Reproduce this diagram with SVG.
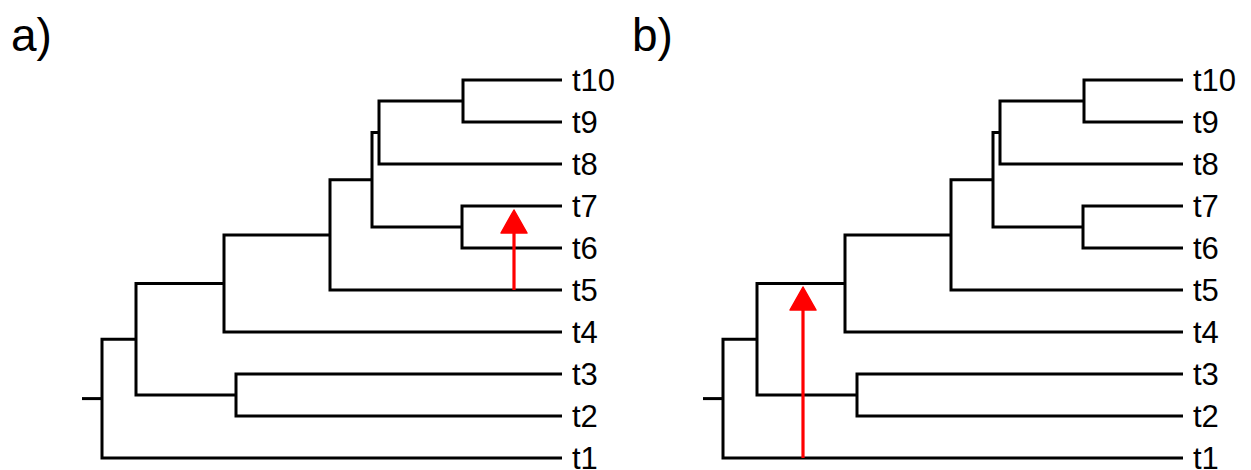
<svg xmlns="http://www.w3.org/2000/svg" width="1251" height="470" viewBox="0 0 1251 470">
  <style>
    .br { fill: none; stroke: #000; stroke-width: 3; stroke-linejoin: miter; stroke-linecap: butt; }
    .tip { font-family: "Liberation Sans", Arial, sans-serif; font-size: 31px; fill: #000; }
    .panel { font-family: "Liberation Sans", Arial, sans-serif; font-size: 46px; fill: #000; }
    .move { fill: none; stroke: #ff0000; stroke-width: 3.2; }
  </style>
  <defs>
    <marker id="redhead" markerUnits="userSpaceOnUse" viewBox="-1 -15 26 30" refX="1" refY="0" markerWidth="26" markerHeight="30" orient="auto">
      <path d="M0,-13 L23,0 L0,13 Z" fill="#ff0000" stroke="#ff0000" stroke-width="1.5" stroke-linejoin="round"/>
    </marker>
  </defs>
  <rect x="0" y="0" width="1251" height="470" fill="#ffffff"/>

  <!-- Panel a -->
  <g id="panel-a">
    <text id="label-a" class="panel" x="11" y="51">a)</text>
    <g id="connectors-a">
      <path class="br" d="M562 80 H463 V122 H562"/>
      <path class="br" d="M463 101 H379 V164 H562"/>
      <path class="br" d="M562 206 H462 V248 H562"/>
      <path class="br" d="M379 132.5 H372 V227 H462"/>
      <path class="br" d="M372 179.8 H330 V290 H562"/>
      <path class="br" d="M330 234.9 H224 V332 H562"/>
      <path class="br" d="M562 374 H236 V416 H562"/>
      <path class="br" d="M224 283.4 H136 V395 H236"/>
      <path class="br" d="M136 339.2 H102 V458 H562"/>
      <path class="br" d="M82 398.6 H102"/>
      <path class="move" d="M514 290 V232" marker-end="url(#redhead)"/>
    </g>
    <g id="tips-a">
      <g id="a-t10"><text class="tip" x="572" y="91">t10</text></g>
      <g id="a-t9"><text class="tip" x="572" y="133">t9</text></g>
      <g id="a-t8"><text class="tip" x="572" y="175">t8</text></g>
      <g id="a-t7"><text class="tip" x="572" y="217">t7</text></g>
      <g id="a-t6"><text class="tip" x="572" y="259">t6</text></g>
      <g id="a-t5"><text class="tip" x="572" y="301">t5</text></g>
      <g id="a-t4"><text class="tip" x="572" y="343">t4</text></g>
      <g id="a-t3"><text class="tip" x="572" y="385">t3</text></g>
      <g id="a-t2"><text class="tip" x="572" y="427">t2</text></g>
      <g id="a-t1"><text class="tip" x="572" y="469">t1</text></g>
    </g>
  </g>

  <!-- Panel b -->
  <g id="panel-b">
    <text id="label-b" class="panel" x="632" y="51">b)</text>
    <g id="connectors-b" transform="translate(621,0)">
      <path class="br" d="M562 80 H463 V122 H562"/>
      <path class="br" d="M463 101 H379 V164 H562"/>
      <path class="br" d="M562 206 H462 V248 H562"/>
      <path class="br" d="M379 132.5 H372 V227 H462"/>
      <path class="br" d="M372 179.8 H330 V290 H562"/>
      <path class="br" d="M330 234.9 H224 V332 H562"/>
      <path class="br" d="M562 374 H236 V416 H562"/>
      <path class="br" d="M224 283.4 H136 V395 H236"/>
      <path class="br" d="M136 339.2 H102 V458 H562"/>
      <path class="br" d="M82 398.6 H102"/>
    </g>
    <g id="move-b">
      <path class="move" d="M803 458 V309" marker-end="url(#redhead)"/>
    </g>
    <g id="tips-b">
      <g id="b-t10"><text class="tip" x="1193" y="91">t10</text></g>
      <g id="b-t9"><text class="tip" x="1193" y="133">t9</text></g>
      <g id="b-t8"><text class="tip" x="1193" y="175">t8</text></g>
      <g id="b-t7"><text class="tip" x="1193" y="217">t7</text></g>
      <g id="b-t6"><text class="tip" x="1193" y="259">t6</text></g>
      <g id="b-t5"><text class="tip" x="1193" y="301">t5</text></g>
      <g id="b-t4"><text class="tip" x="1193" y="343">t4</text></g>
      <g id="b-t3"><text class="tip" x="1193" y="385">t3</text></g>
      <g id="b-t2"><text class="tip" x="1193" y="427">t2</text></g>
      <g id="b-t1"><text class="tip" x="1193" y="469">t1</text></g>
    </g>
  </g>
</svg>
